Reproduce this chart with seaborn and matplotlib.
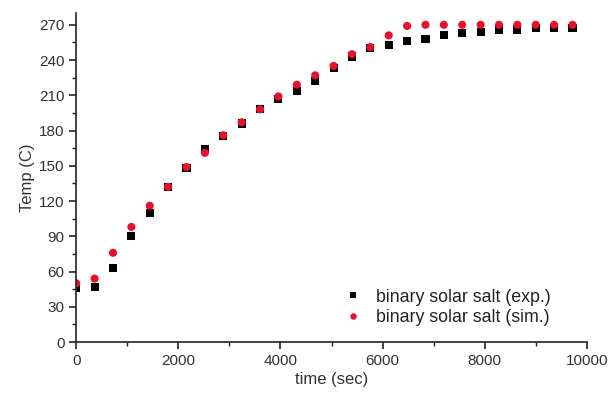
import seaborn as sns
import matplotlib.pyplot as plt
import pandas as pd
import numpy as np
from matplotlib.ticker import MultipleLocator

# time points (sec), sampled every 360 s
time_sec = [0, 360, 720, 1080, 1440, 1800, 2160, 2520, 2880, 3240,
            3600, 3960, 4320, 4680, 5040, 5400, 5760, 6120, 6480, 6840,
            7200, 7560, 7920, 8280, 8640, 9000, 9360, 9720]

temp_exp = [46, 47, 63, 90, 110, 132, 148, 164, 175, 186,
            198, 207, 214, 222, 233, 243, 250, 253, 256, 258,
            261, 263, 264, 266, 266, 267, 267, 267]

temp_sim = [50, 54, 76, 98, 116, 132, 149, 161, 176, 187,
            198, 209, 219, 227, 235, 245, 251, 261, 269, 270,
            270, 270, 270, 270, 270, 270, 270, 270]

labels = ['binary solar salt (exp.)', 'binary solar salt (sim.)']

df = pd.concat([
    pd.DataFrame({'time': time_sec, 'temp': temp_exp, 'series': labels[0]}),
    pd.DataFrame({'time': time_sec, 'temp': temp_sim, 'series': labels[1]}),
])

plt.rcParams['font.family'] = ['Liberation Sans', 'DejaVu Sans']
txt = '#333333'

fig = plt.figure(figsize=(6.1, 3.95), dpi=100)
ax = fig.add_axes([0.125, 0.134, 0.837, 0.833])

sns.scatterplot(data=df, x='time', y='temp', hue='series', style='series',
                hue_order=labels, style_order=labels,
                palette=['black', '#e8102a'],
                markers={labels[0]: 's', labels[1]: 'o'},
                s=34, edgecolor='none', linewidth=0, ax=ax)

ax.set_xlim(0, 10000)
ax.set_ylim(0, 280)
ax.xaxis.set_major_locator(MultipleLocator(2000))
ax.xaxis.set_minor_locator(MultipleLocator(1000))
ax.yaxis.set_major_locator(MultipleLocator(30))
ax.yaxis.set_minor_locator(MultipleLocator(15))

ax.spines['top'].set_visible(False)
ax.spines['right'].set_visible(False)
for sp in ['left', 'bottom']:
    ax.spines[sp].set_color('#222222')
    ax.spines[sp].set_linewidth(1.2)

ax.tick_params(which='major', direction='out', length=5, width=1.2,
               colors='#222222', labelcolor=txt, labelsize=11)
ax.tick_params(which='minor', direction='out', length=3, width=1.0,
               colors='#222222')

ax.set_xlabel('time (sec)', fontsize=12, color=txt, labelpad=3)
ax.set_ylabel('Temp (C)', fontsize=12, color=txt, labelpad=3)

leg = ax.legend(loc='lower right', bbox_to_anchor=(0.96, 0.0), frameon=False,
                fontsize=12.8, handletextpad=0.3, labelspacing=0.2,
                markerscale=0.8)
for t in leg.get_texts():
    t.set_color('#222222')

fig.savefig('out.png', dpi=100)
